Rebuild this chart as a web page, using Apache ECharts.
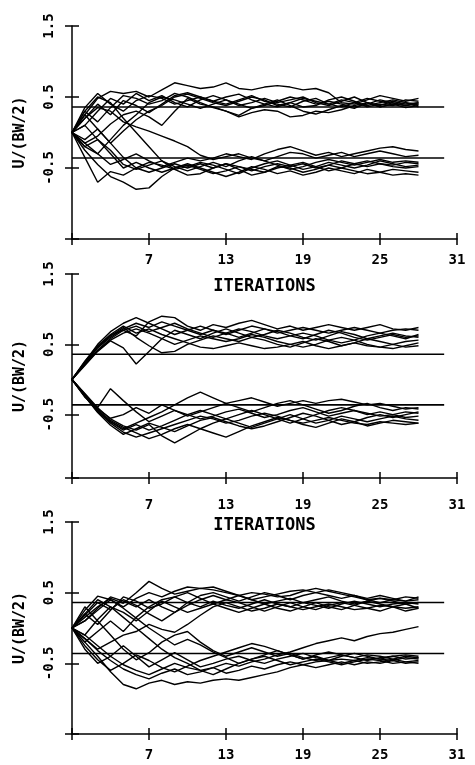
<!DOCTYPE html>
<html>
<head>
<meta charset="utf-8">
<script src="https://cdn.jsdelivr.net/npm/echarts@6/dist/echarts.min.js"></script>
<style>
  html, body { margin: 0; padding: 0; background: #fff; }
  #main { width: 475px; height: 765px; }
</style>
</head>
<body>
<div id="main"></div>
<script>
// iterations 1..28 on the x axis
const iterations = [1, 2, 3, 4, 5, 6, 7, 8, 9, 10, 11, 12, 13, 14, 15, 16, 17, 18, 19, 20, 21, 22, 23, 24, 25, 26, 27, 28];
const xTicks = [1, 7, 13, 19, 25, 31];
const xLabels = [7, 13, 19, 25, 31];
const yLabels = [-0.5, 0.5, 1.5];
const refLevels = [0.36, -0.36];
const refSpan = [1, 30];

// panel 1 (top)
const p1u1 = [0, 0.25, 0.48, 0.58, 0.55, 0.58, 0.50, 0.60, 0.70, 0.66, 0.62, 0.64, 0.70, 0.62, 0.60, 0.64, 0.66, 0.64, 0.60, 0.62, 0.56, 0.42, 0.40, 0.46, 0.52, 0.48, 0.44, 0.48];
const p1u2 = [0, -0.15, -0.05, 0.12, 0.25, 0.30, 0.22, 0.10, 0.30, 0.48, 0.40, 0.36, 0.30, 0.24, 0.34, 0.40, 0.46, 0.38, 0.30, 0.26, 0.32, 0.38, 0.34, 0.42, 0.36, 0.40, 0.38, 0.42];
const p1u3 = [0, 0.30, 0.15, 0.35, 0.52, 0.48, 0.40, 0.45, 0.55, 0.50, 0.42, 0.35, 0.30, 0.22, 0.28, 0.32, 0.30, 0.22, 0.24, 0.30, 0.28, 0.32, 0.38, 0.42, 0.36, 0.40, 0.35, 0.38];
const p1u4 = [0, 0.35, 0.55, 0.40, 0.30, 0.45, 0.52, 0.48, 0.40, 0.45, 0.50, 0.44, 0.40, 0.46, 0.52, 0.44, 0.40, 0.36, 0.44, 0.48, 0.40, 0.36, 0.42, 0.48, 0.44, 0.40, 0.46, 0.44];
const p1u5 = [0, 0.10, 0.30, 0.48, 0.40, 0.55, 0.45, 0.52, 0.42, 0.36, 0.46, 0.52, 0.46, 0.38, 0.42, 0.48, 0.42, 0.46, 0.50, 0.42, 0.38, 0.44, 0.50, 0.42, 0.38, 0.44, 0.40, 0.42];
const p1u6 = [0, -0.20, -0.30, -0.10, 0.10, 0.25, 0.42, 0.50, 0.46, 0.40, 0.34, 0.40, 0.46, 0.40, 0.34, 0.38, 0.44, 0.50, 0.46, 0.40, 0.44, 0.40, 0.36, 0.40, 0.46, 0.42, 0.38, 0.40];
const p1u7 = [0, 0.20, 0.40, 0.25, 0.45, 0.38, 0.28, 0.40, 0.52, 0.56, 0.50, 0.44, 0.50, 0.54, 0.46, 0.40, 0.36, 0.42, 0.48, 0.44, 0.40, 0.46, 0.42, 0.38, 0.42, 0.46, 0.42, 0.36];
const p1u8 = [0, -0.10, 0.05, -0.15, 0.02, 0.18, 0.30, 0.38, 0.50, 0.54, 0.48, 0.42, 0.38, 0.44, 0.50, 0.46, 0.38, 0.42, 0.36, 0.38, 0.46, 0.50, 0.44, 0.36, 0.40, 0.38, 0.42, 0.40];
const p1d1 = [0, -0.25, -0.45, -0.62, -0.70, -0.80, -0.78, -0.62, -0.50, -0.46, -0.52, -0.58, -0.54, -0.48, -0.52, -0.56, -0.50, -0.46, -0.42, -0.48, -0.54, -0.50, -0.44, -0.40, -0.44, -0.48, -0.50, -0.48];
const p1d2 = [0, -0.35, -0.70, -0.55, -0.60, -0.50, -0.42, -0.46, -0.52, -0.60, -0.58, -0.50, -0.44, -0.52, -0.60, -0.56, -0.48, -0.50, -0.56, -0.52, -0.46, -0.50, -0.54, -0.58, -0.56, -0.52, -0.54, -0.56];
const p1d3 = [0, 0.30, 0.50, 0.42, 0.20, 0.00, -0.20, -0.40, -0.52, -0.48, -0.42, -0.46, -0.52, -0.58, -0.50, -0.44, -0.40, -0.46, -0.52, -0.48, -0.42, -0.46, -0.50, -0.46, -0.40, -0.44, -0.48, -0.46];
const p1d4 = [0, 0.20, 0.35, 0.30, 0.15, 0.08, 0.02, -0.05, -0.12, -0.20, -0.32, -0.38, -0.34, -0.30, -0.36, -0.40, -0.34, -0.28, -0.30, -0.36, -0.32, -0.28, -0.34, -0.30, -0.26, -0.30, -0.34, -0.32];
const p1d5 = [0, -0.15, -0.30, -0.45, -0.38, -0.30, -0.40, -0.48, -0.42, -0.36, -0.40, -0.36, -0.30, -0.34, -0.38, -0.30, -0.24, -0.20, -0.26, -0.32, -0.28, -0.34, -0.30, -0.26, -0.22, -0.20, -0.24, -0.26];
const p1d6 = [0, 0.10, -0.10, -0.25, -0.45, -0.52, -0.46, -0.40, -0.48, -0.54, -0.48, -0.42, -0.48, -0.40, -0.34, -0.40, -0.46, -0.52, -0.48, -0.42, -0.38, -0.42, -0.46, -0.42, -0.38, -0.42, -0.40, -0.42];
const p1d7 = [0, -0.20, -0.10, -0.30, -0.50, -0.42, -0.50, -0.56, -0.50, -0.44, -0.50, -0.56, -0.62, -0.56, -0.48, -0.52, -0.58, -0.54, -0.60, -0.56, -0.50, -0.54, -0.58, -0.52, -0.56, -0.60, -0.58, -0.60];
const p1d8 = [0, 0.25, 0.05, -0.15, -0.35, -0.50, -0.56, -0.50, -0.44, -0.50, -0.44, -0.50, -0.44, -0.48, -0.54, -0.48, -0.44, -0.48, -0.44, -0.50, -0.46, -0.40, -0.44, -0.48, -0.44, -0.46, -0.42, -0.44];

// panel 2 (middle)
const p2u1 = [0, 0.25, 0.50, 0.68, 0.80, 0.88, 0.80, 0.72, 0.64, 0.70, 0.76, 0.70, 0.64, 0.70, 0.76, 0.72, 0.66, 0.70, 0.74, 0.70, 0.66, 0.70, 0.74, 0.70, 0.66, 0.70, 0.72, 0.70];
const p2u2 = [0, 0.22, 0.42, 0.58, 0.70, 0.62, 0.82, 0.90, 0.88, 0.76, 0.70, 0.78, 0.74, 0.80, 0.84, 0.78, 0.72, 0.76, 0.70, 0.74, 0.78, 0.74, 0.70, 0.74, 0.78, 0.72, 0.70, 0.74];
const p2u3 = [0, 0.20, 0.40, 0.55, 0.45, 0.22, 0.40, 0.58, 0.70, 0.64, 0.58, 0.66, 0.72, 0.66, 0.60, 0.64, 0.70, 0.66, 0.60, 0.56, 0.62, 0.68, 0.64, 0.58, 0.62, 0.66, 0.62, 0.60];
const p2u4 = [0, 0.24, 0.46, 0.62, 0.74, 0.60, 0.48, 0.38, 0.40, 0.50, 0.56, 0.62, 0.58, 0.54, 0.60, 0.56, 0.50, 0.46, 0.52, 0.58, 0.54, 0.48, 0.52, 0.58, 0.54, 0.50, 0.54, 0.56];
const p2u5 = [0, 0.26, 0.48, 0.64, 0.76, 0.66, 0.72, 0.64, 0.58, 0.52, 0.46, 0.44, 0.48, 0.52, 0.48, 0.44, 0.46, 0.50, 0.54, 0.48, 0.44, 0.48, 0.52, 0.48, 0.46, 0.50, 0.46, 0.48];
const p2u6 = [0, 0.23, 0.45, 0.60, 0.72, 0.80, 0.74, 0.82, 0.76, 0.70, 0.64, 0.70, 0.66, 0.60, 0.66, 0.72, 0.68, 0.62, 0.58, 0.64, 0.70, 0.66, 0.60, 0.56, 0.60, 0.64, 0.60, 0.62];
const p2u7 = [0, 0.24, 0.47, 0.63, 0.70, 0.76, 0.68, 0.74, 0.80, 0.72, 0.66, 0.60, 0.66, 0.72, 0.68, 0.62, 0.58, 0.62, 0.66, 0.62, 0.56, 0.52, 0.56, 0.62, 0.66, 0.62, 0.58, 0.64];
const p2u8 = [0, 0.21, 0.41, 0.56, 0.66, 0.72, 0.66, 0.58, 0.50, 0.56, 0.62, 0.58, 0.54, 0.58, 0.64, 0.60, 0.54, 0.50, 0.46, 0.50, 0.56, 0.60, 0.56, 0.50, 0.46, 0.44, 0.48, 0.52];
const p2d1 = [0, -0.22, -0.45, -0.62, -0.75, -0.82, -0.76, -0.70, -0.64, -0.58, -0.52, -0.56, -0.62, -0.58, -0.52, -0.48, -0.52, -0.58, -0.62, -0.58, -0.54, -0.58, -0.62, -0.64, -0.60, -0.62, -0.64, -0.62];
const p2d2 = [0, -0.25, -0.40, -0.13, -0.30, -0.46, -0.60, -0.52, -0.44, -0.50, -0.56, -0.52, -0.46, -0.42, -0.48, -0.54, -0.50, -0.44, -0.40, -0.46, -0.52, -0.48, -0.44, -0.48, -0.52, -0.50, -0.46, -0.48];
const p2d3 = [0, -0.20, -0.40, -0.56, -0.66, -0.72, -0.64, -0.80, -0.90, -0.80, -0.70, -0.62, -0.56, -0.62, -0.68, -0.62, -0.56, -0.50, -0.56, -0.62, -0.58, -0.52, -0.56, -0.60, -0.56, -0.52, -0.56, -0.58];
const p2d4 = [0, -0.24, -0.46, -0.60, -0.70, -0.62, -0.54, -0.46, -0.36, -0.26, -0.18, -0.26, -0.34, -0.30, -0.26, -0.32, -0.38, -0.34, -0.30, -0.34, -0.30, -0.28, -0.32, -0.36, -0.34, -0.38, -0.42, -0.40];
const p2d5 = [0, -0.23, -0.44, -0.58, -0.68, -0.76, -0.84, -0.78, -0.70, -0.64, -0.70, -0.76, -0.82, -0.74, -0.66, -0.60, -0.54, -0.58, -0.64, -0.68, -0.62, -0.56, -0.60, -0.66, -0.62, -0.58, -0.60, -0.62];
const p2d6 = [0, -0.21, -0.42, -0.55, -0.50, -0.40, -0.48, -0.36, -0.44, -0.52, -0.46, -0.40, -0.34, -0.40, -0.46, -0.40, -0.34, -0.30, -0.36, -0.42, -0.48, -0.44, -0.38, -0.34, -0.40, -0.44, -0.40, -0.42];
const p2d7 = [0, -0.22, -0.43, -0.60, -0.72, -0.64, -0.72, -0.66, -0.58, -0.50, -0.44, -0.50, -0.56, -0.50, -0.44, -0.50, -0.56, -0.62, -0.56, -0.50, -0.44, -0.40, -0.44, -0.50, -0.46, -0.50, -0.54, -0.52];
const p2d8 = [0, -0.24, -0.47, -0.65, -0.78, -0.70, -0.62, -0.68, -0.74, -0.66, -0.58, -0.54, -0.60, -0.66, -0.70, -0.66, -0.60, -0.54, -0.48, -0.52, -0.58, -0.64, -0.60, -0.54, -0.50, -0.54, -0.50, -0.46];

// panel 3 (bottom)
const p3u1 = [0, 0.15, 0.30, 0.42, 0.35, 0.50, 0.66, 0.56, 0.48, 0.52, 0.56, 0.54, 0.50, 0.46, 0.50, 0.48, 0.44, 0.46, 0.52, 0.56, 0.52, 0.48, 0.44, 0.40, 0.42, 0.40, 0.38, 0.40];
const p3u2 = [0, 0.25, 0.45, 0.40, 0.30, 0.42, 0.50, 0.44, 0.52, 0.58, 0.56, 0.58, 0.52, 0.46, 0.40, 0.44, 0.48, 0.52, 0.54, 0.50, 0.46, 0.42, 0.46, 0.40, 0.36, 0.40, 0.44, 0.42];
const p3u3 = [0, -0.20, -0.05, 0.10, -0.05, 0.15, 0.30, 0.40, 0.44, 0.36, 0.30, 0.38, 0.32, 0.28, 0.34, 0.40, 0.34, 0.30, 0.36, 0.32, 0.28, 0.34, 0.38, 0.34, 0.30, 0.34, 0.36, 0.34];
const p3u4 = [0, -0.15, -0.30, -0.20, -0.10, -0.05, 0.05, -0.02, -0.06, 0.05, 0.18, 0.30, 0.36, 0.30, 0.24, 0.28, 0.34, 0.30, 0.26, 0.30, 0.34, 0.30, 0.26, 0.28, 0.32, 0.30, 0.28, 0.30];
const p3u5 = [0, 0.10, 0.28, 0.44, 0.38, 0.30, 0.40, 0.30, 0.22, 0.32, 0.40, 0.46, 0.40, 0.36, 0.30, 0.24, 0.30, 0.36, 0.30, 0.26, 0.32, 0.36, 0.32, 0.28, 0.24, 0.30, 0.34, 0.28];
const p3u6 = [0, 0.20, 0.05, 0.25, 0.44, 0.38, 0.28, 0.34, 0.44, 0.50, 0.42, 0.34, 0.40, 0.46, 0.40, 0.34, 0.38, 0.42, 0.36, 0.40, 0.44, 0.38, 0.34, 0.38, 0.42, 0.38, 0.34, 0.36];
const p3u7 = [0, -0.10, 0.12, 0.30, 0.22, 0.10, 0.24, 0.38, 0.30, 0.22, 0.28, 0.34, 0.28, 0.22, 0.28, 0.34, 0.28, 0.24, 0.30, 0.36, 0.30, 0.26, 0.32, 0.38, 0.34, 0.30, 0.24, 0.28];
const p3u8 = [0, 0.18, 0.36, 0.26, 0.40, 0.32, 0.20, 0.10, 0.22, 0.36, 0.46, 0.50, 0.44, 0.38, 0.44, 0.50, 0.46, 0.40, 0.46, 0.50, 0.54, 0.50, 0.46, 0.42, 0.46, 0.42, 0.38, 0.44];
const p3d1 = [0, -0.20, -0.40, -0.62, -0.80, -0.86, -0.78, -0.74, -0.80, -0.76, -0.78, -0.74, -0.72, -0.74, -0.70, -0.66, -0.62, -0.56, -0.52, -0.48, -0.46, -0.44, -0.46, -0.42, -0.44, -0.46, -0.42, -0.44];
const p3d2 = [0, -0.10, -0.25, -0.40, -0.52, -0.60, -0.66, -0.58, -0.50, -0.56, -0.60, -0.56, -0.50, -0.54, -0.48, -0.44, -0.38, -0.34, -0.28, -0.22, -0.18, -0.14, -0.18, -0.12, -0.08, -0.06, -0.02, 0.02];
const p3d3 = [0, -0.30, -0.50, -0.40, -0.25, -0.40, -0.55, -0.45, -0.35, -0.45, -0.55, -0.50, -0.44, -0.40, -0.46, -0.50, -0.44, -0.40, -0.36, -0.42, -0.46, -0.40, -0.36, -0.40, -0.44, -0.40, -0.38, -0.40];
const p3d4 = [0, 0.20, 0.40, 0.30, 0.15, 0.00, -0.15, -0.30, -0.42, -0.50, -0.60, -0.66, -0.58, -0.50, -0.44, -0.40, -0.46, -0.52, -0.48, -0.44, -0.48, -0.52, -0.48, -0.44, -0.46, -0.50, -0.48, -0.46];
const p3d5 = [0, 0.30, 0.10, -0.10, -0.30, -0.45, -0.35, -0.20, -0.10, -0.05, -0.20, -0.32, -0.40, -0.34, -0.28, -0.34, -0.40, -0.36, -0.42, -0.46, -0.42, -0.38, -0.42, -0.46, -0.42, -0.40, -0.44, -0.42];
const p3d6 = [0, -0.25, -0.45, -0.60, -0.50, -0.38, -0.46, -0.56, -0.62, -0.54, -0.46, -0.40, -0.34, -0.28, -0.22, -0.26, -0.32, -0.38, -0.44, -0.40, -0.46, -0.50, -0.46, -0.50, -0.48, -0.44, -0.48, -0.50];
const p3d7 = [0, -0.15, -0.32, -0.46, -0.58, -0.66, -0.72, -0.64, -0.58, -0.66, -0.62, -0.56, -0.64, -0.60, -0.54, -0.58, -0.52, -0.48, -0.52, -0.56, -0.52, -0.48, -0.52, -0.48, -0.50, -0.46, -0.50, -0.48];
const p3d8 = [0, 0.10, 0.25, 0.40, 0.28, 0.14, 0.00, -0.12, -0.24, -0.16, -0.24, -0.34, -0.42, -0.50, -0.44, -0.38, -0.32, -0.38, -0.44, -0.38, -0.34, -0.38, -0.42, -0.38, -0.40, -0.44, -0.40, -0.42];

const panelLines = [
    [p1u1, p1u2, p1u3, p1u4, p1u5, p1u6, p1u7, p1u8, p1d1, p1d2, p1d3, p1d4, p1d5, p1d6, p1d7, p1d8],
    [p2u1, p2u2, p2u3, p2u4, p2u5, p2u6, p2u7, p2u8, p2d1, p2d2, p2d3, p2d4, p2d5, p2d6, p2d7, p2d8],
    [p3u1, p3u2, p3u3, p3u4, p3u5, p3u6, p3u7, p3u8, p3d1, p3d2, p3d3, p3d4, p3d5, p3d6, p3d7, p3d8]
];

let font = 'DejaVu Sans Mono';
let panels = [
    {top: 26, height: 213, yMin: -1.5, xTitle: 'ITERATIONS', labelMargin: 14},
    {top: 274, height: 204, yMin: -1.4, xTitle: 'ITERATIONS', labelMargin: 20},
    {top: 522, height: 212, yMin: -1.5, xTitle: '', labelMargin: 14}
];
let tickStyle = {color: '#000', width: 1.5};

let grids = [], xAxes = [], yAxes = [], series = [];
panels.forEach(function(p, g){
    grids.push({left: 72, width: 385, top: p.top, height: p.height});
    // main axes (outside ticks + labels)
    xAxes.push({
        gridIndex: g, type: 'value', min: 1, max: 31, position: 'bottom',
        name: p.xTitle, nameLocation: 'middle', nameGap: 39,
        nameTextStyle: {fontFamily: font, fontSize: 17, fontWeight: 'bold', color: '#000'},
        axisLine: {onZero: false, lineStyle: tickStyle},
        axisTick: {customValues: xTicks, length: 6, lineStyle: tickStyle},
        axisLabel: {customValues: xLabels, margin: p.labelMargin, color: '#000',
            fontFamily: font, fontWeight: 'bold', fontSize: 14},
        splitLine: {show: false}
    });
    yAxes.push({
        gridIndex: g, type: 'value', min: p.yMin, max: 1.5, position: 'left',
        name: 'U/(BW/2)', nameLocation: 'middle', nameGap: 44, nameRotate: 90,
        nameTextStyle: {fontFamily: font, fontSize: 15, fontWeight: 'bold', color: '#000'},
        axisLine: {onZero: false, lineStyle: tickStyle},
        axisTick: {customValues: [p.yMin].concat(yLabels), length: 7, lineStyle: tickStyle},
        axisLabel: {customValues: yLabels, rotate: 90, margin: 16, color: '#000',
            fontFamily: font, fontWeight: 'bold', fontSize: 14,
            formatter: function(v){ return v.toFixed(1); }},
        splitLine: {show: false}
    });
});
// second set of axes, only to draw the inner half of the crossing ticks
panels.forEach(function(p, g){
    xAxes.push({
        gridIndex: g, type: 'value', min: 1, max: 31, position: 'bottom',
        axisLine: {show: false, onZero: false},
        axisTick: {inside: true, customValues: xTicks, length: 6, lineStyle: tickStyle},
        axisLabel: {show: false}, splitLine: {show: false}
    });
    yAxes.push({
        gridIndex: g, type: 'value', min: p.yMin, max: 1.5, position: 'left',
        axisLine: {show: false, onZero: false},
        axisTick: {inside: true, customValues: [p.yMin].concat(yLabels), length: 7, lineStyle: tickStyle},
        axisLabel: {show: false}, splitLine: {show: false}
    });
});

panelLines.forEach(function(lines, g){
    lines.forEach(function(vals){
        series.push({
            type: 'line', xAxisIndex: g, yAxisIndex: g,
            data: iterations.map(function(it, i){ return [it, vals[i]]; }),
            symbol: 'none', silent: true,
            lineStyle: {color: '#000', width: 1.4}
        });
    });
    refLevels.forEach(function(lv){
        series.push({
            type: 'line', xAxisIndex: g, yAxisIndex: g,
            data: [[refSpan[0], lv], [refSpan[1], lv]],
            symbol: 'none', silent: true,
            lineStyle: {color: '#000', width: 1.6}
        });
    });
});

let myChart = echarts.init(document.getElementById('main'));
myChart.setOption({
    backgroundColor: '#fff',
    animation: false,
    grid: grids,
    xAxis: xAxes,
    yAxis: yAxes,
    series: series
});
</script>
</body>
</html>
